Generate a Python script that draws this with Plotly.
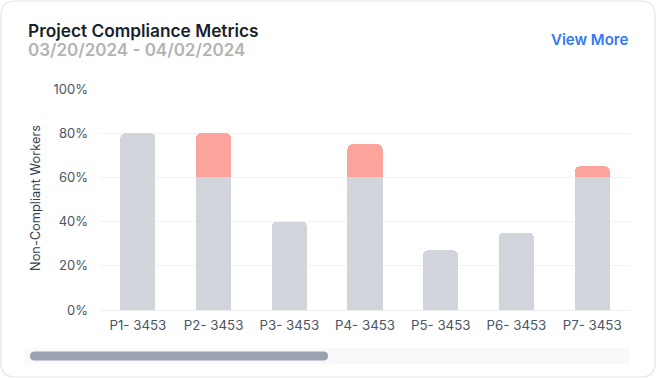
import plotly.graph_objects as go

categories = ["P1- 3453", "P2- 3453", "P3- 3453", "P4- 3453", "P5- 3453", "P6- 3453", "P7- 3453"]
base_values = [80, 60, 40, 60, 27, 35, 60]
excess_values = [None, 20, None, 15, None, None, 5]
y_ticks = [0, 20, 40, 60, 80, 100]
y_ticktext = ["0%", "20%", "40%", "60%", "80%", "100%"]

W, H = 656, 378
L, R, T, B = 100, 26, 89, 68
PW, PH = W - L - R, H - T - B

def px(x):
    return (x - L) / PW

def py(y):
    return (H - B - y) / PH

def rounded_path(x0, y0, x1, y1, r):
    rx, ry = r / PW, r / PH
    X0, X1 = px(x0), px(x1)
    Y0, Y1 = py(y1), py(y0)  # bottom, top in paper
    return (f"M {X0+rx},{Y1} L {X1-rx},{Y1} Q {X1},{Y1} {X1},{Y1-ry} "
            f"L {X1},{Y0+ry} Q {X1},{Y0} {X1-rx},{Y0} L {X0+rx},{Y0} "
            f"Q {X0},{Y0} {X0},{Y0+ry} L {X0},{Y1-ry} Q {X0},{Y1} {X0+rx},{Y1} Z")

fig = go.Figure()
fig.add_trace(go.Bar(x=categories, y=base_values, marker=dict(color="#D1D5DB", line=dict(width=0)),
                     name="Compliant", hoverinfo="skip"))
fig.add_trace(go.Bar(x=categories, y=excess_values, marker=dict(color="#FCA39B", line=dict(width=0)),
                     name="Non-Compliant", hoverinfo="skip"))

font_family = "Inter, Roboto, sans-serif"

fig.update_layout(
    width=W, height=H, autosize=False,
    margin=dict(l=L, r=R, t=T, b=B, pad=0),
    barmode="stack", bargap=0.535, barcornerradius=5,
    showlegend=False,
    plot_bgcolor="rgba(0,0,0,0)", paper_bgcolor="white",
    font=dict(family=font_family, color="#4B5563", size=12),
    xaxis=dict(showgrid=False, showline=False, zeroline=False, ticks="",
               tickfont=dict(size=13.3, color="#4B5563", family=font_family), ticklabelstandoff=6),
    yaxis=dict(range=[0, 100], tickvals=y_ticks, ticktext=y_ticktext,
               showgrid=True, gridcolor="#F1F2F4", gridwidth=1,
               zeroline=True, zerolinecolor="#ECEDEF", zerolinewidth=1,
               showline=False, ticks="", ticklabelstandoff=11,
               tickfont=dict(size=13, color="#4B5563", family=font_family)),
    shapes=[
        dict(type="path", xref="paper", yref="paper", path=rounded_path(1, 1, 655, 377, 14),
             line=dict(color="#E3E5E8", width=1.2), fillcolor="rgba(0,0,0,0)", layer="below"),
        dict(type="rect", xref="paper", yref="paper", x0=px(25), x1=px(630), y0=py(364), y1=py(348),
             line=dict(width=0), fillcolor="#F8F9FB", layer="below"),
        dict(type="path", xref="paper", yref="paper", path=rounded_path(30, 351.5, 328, 360.5, 4.5),
             line=dict(width=0), fillcolor="#9CA1B0", layer="above"),
    ],
    annotations=[
        dict(text="Project Compliance Metrics", xref="paper", yref="paper",
             x=px(25.5), y=py(30), xanchor="left", yanchor="middle", showarrow=False,
             font=dict(size=17.3, color="#1A1F2C", family=font_family, weight=600)),
        dict(text="03/20/2024 - 04/02/2024", xref="paper", yref="paper",
             x=px(26), y=py(50), xanchor="left", yanchor="middle", showarrow=False,
             font=dict(size=17, color="#B3B3B3", family=font_family, weight=600)),
        dict(text="View More", xref="paper", yref="paper",
             x=px(630), y=py(40), xanchor="right", yanchor="middle", showarrow=False,
             font=dict(size=15, color="#3478F0", family=font_family, weight=600)),
        dict(text="Non-Compliant Workers", xref="paper", yref="paper",
             x=px(35), y=py(198), xanchor="center", yanchor="middle", showarrow=False,
             textangle=-90, font=dict(size=12.8, color="#374151", family=font_family)),
    ],
)

fig.write_html("out.html", include_plotlyjs=True, config={"displayModeBar": False},
               post_script="document.body.style.margin='0';")
